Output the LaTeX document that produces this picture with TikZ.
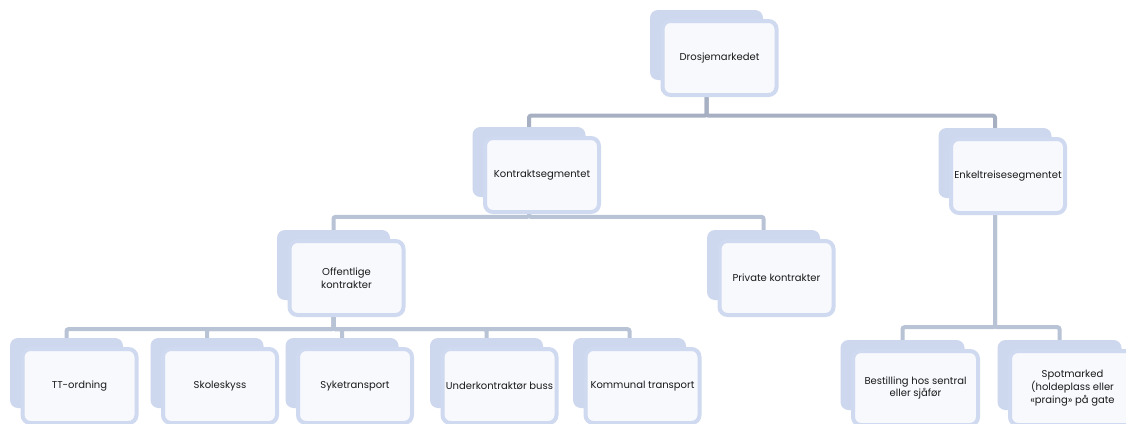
\documentclass[tikz,border=0pt]{standalone}
\usepackage{fontspec}
\setmainfont{Poppins}
\usetikzlibrary{backgrounds}
\definecolor{backc}{HTML}{CDD7EE}
\definecolor{frontfill}{HTML}{F7F9FD}
\definecolor{frontline}{HTML}{CFD9EF}
\definecolor{connA}{HTML}{A6B0C2}
\definecolor{connB}{HTML}{B9C3D6}
\definecolor{txt}{HTML}{1A1A1A}
\tikzset{
 backbox/.style={draw=none, fill=backc, rounded corners=8pt, minimum width=#1, minimum height=70pt, inner sep=0pt},
 frontbox/.style={fill=frontfill, draw=frontline, line width=4pt, rounded corners=8pt, minimum width=#1, minimum height=74pt, inner sep=2pt, align=center, font=\fontsize{10}{12.8}\selectfont, text=txt},
 conn/.style={line width=4pt, draw=connB, rounded corners=2pt},
 connTop/.style={conn, draw=connA}
}
\newcommand\tbox[5]{%
 \node[backbox=#4pt] (#1B) at (#2, #3+35) {};
 \node[frontbox=#4pt+1pt] (#1) at (#2+13, #3+48) {#5};
}
\begin{document}
\begin{tikzpicture}[x=1pt,y=-1pt]
\useasboundingbox (0,0) rectangle (1126,423);
\clip (0,0) rectangle (1126,423);
\tbox{d}{706.5}{10}{113}{Drosjemarkedet}
\tbox{k}{529}{127}{113}{Kontraktsegmentet}
\tbox{e}{995}{128}{113}{Enkeltreisesegmentet}
\tbox{o}{333.5}{230}{113}{Offentlige\\kontrakter}
\tbox{p}{763.5}{230}{113}{Private kontrakter}
\tbox{tt}{66.5}{338}{113}{TT-ordning}
\tbox{sk}{207}{338}{113}{Skoleskyss}
\tbox{sy}{342}{338}{113}{Syketransport}
\tbox{uk}{486.5}{338}{113}{Underkontraktør buss}
\tbox{ko}{629.5}{338}{113}{Kommunal transport}
\tbox{be}{902.5}{340}{124}{Bestilling hos sentral\\eller sjåfør}
\tbox{sp}{1059.5}{340}{124}{Spotmarked\\(holdeplass eller\\«praing» på gate}
\begin{scope}[on background layer]
\fill[white] (0,0) rectangle (1126,423);
\draw[connTop] (dB.south) -- ++(0,35.5) -| (kB.north);
\draw[connTop] (dB.south) -- ++(0,35.5) -| (eB.north);
\draw[conn] (kB.south) -- ++(0,19.7) -| (oB.north);
\draw[conn] (kB.south) -- ++(0,19.7) -| (pB.north);
\foreach \c in {tt,sk,sy,uk,ko}
  \draw[conn] (oB.south) -- ++(0,29) -| (\c B.north);
\foreach \c in {be,sp}
  \draw[conn] (eB.south) -- ++(0,129) -| (\c B.north);
\end{scope}
\end{tikzpicture}
\end{document}
